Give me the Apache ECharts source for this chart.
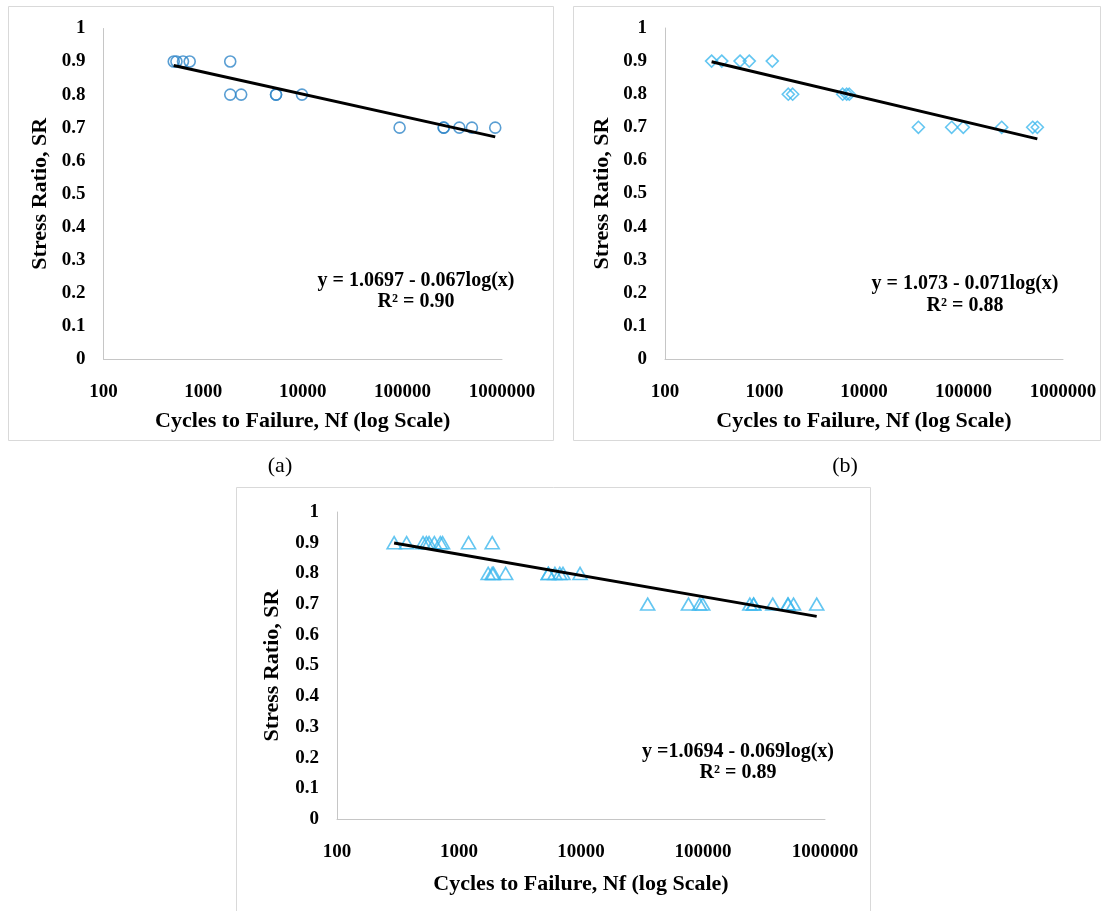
<!DOCTYPE html>
<html>
<head>
<meta charset="utf-8">
<script src="https://cdn.jsdelivr.net/npm/echarts@6/dist/echarts.min.js"></script>
<style>
html,body{margin:0;padding:0;background:#fff;}
#chart{width:1106px;height:911px;}
</style>
</head>
<body>
<div id="chart"></div>
<script>
// ---- data ----
const aCycles = [507, 540, 628, 733, 1871, 1871, 2410, 5395, 5395, 9820, 93800, 260000, 260000, 373000, 499000, 855000];
const aSR     = [0.9, 0.9, 0.9, 0.9, 0.9, 0.8, 0.8, 0.8, 0.8, 0.8, 0.7, 0.7, 0.7, 0.7, 0.7, 0.7];
const bCycles = [294, 372, 568, 703, 1197, 1734, 1919, 6110, 6700, 7115, 35200, 76000, 99500, 242000, 496000, 552000];
const bSR     = [0.9, 0.9, 0.9, 0.9, 0.9, 0.8, 0.8, 0.8, 0.8, 0.8, 0.7, 0.7, 0.7, 0.7, 0.7, 0.7];
const cCycles = [294, 372, 507, 540, 568, 628, 703, 733, 1197, 1871,
                 1734, 1871, 1919, 2410, 5395, 5395, 6110, 6700, 7115, 9820,
                 35200, 76000, 93800, 99500, 242000, 260000, 260000, 373000, 496000, 499000, 552000, 855000];
const cSR     = [0.9, 0.9, 0.9, 0.9, 0.9, 0.9, 0.9, 0.9, 0.9, 0.9,
                 0.8, 0.8, 0.8, 0.8, 0.8, 0.8, 0.8, 0.8, 0.8, 0.8,
                 0.7, 0.7, 0.7, 0.7, 0.7, 0.7, 0.7, 0.7, 0.7, 0.7, 0.7, 0.7];
// trendline end points (logarithmic fits as labelled)
const aTrend = [[507, 0.888], [855000, 0.672]];
const bTrend = [[294, 0.898], [552000, 0.665]];
const cTrend = [[294, 0.899], [855000, 0.660]];
const xTicks = ['100', '1000', '10000', '100000', '1000000'];
const yTicks = ['0', '0.1', '0.2', '0.3', '0.4', '0.5', '0.6', '0.7', '0.8', '0.9', '1'];
const eqA = ['y = 1.0697 - 0.067log(x)', 'R² = 0.90'];
const eqB = ['y = 1.073 - 0.071log(x)', 'R² = 0.88'];
const eqC = ['y =1.0694 - 0.069log(x)', 'R² = 0.89'];
const xTitle = 'Cycles to Failure, Nf (log Scale)';
const yTitle = 'Stress Ratio, SR';

// ---- build ----
const FONT = "'Liberation Serif', 'Times New Roman', serif";
const AXIS_COLOR = '#c6c6c6';
const pair = (xs, ys) => xs.map((x, i) => [x, ys[i]]);

function xAxisCfg(idx, gap, fs) {
  return {
    gridIndex: idx, type: 'log', logBase: 10, min: 100, max: 1000000,
    axisLine: {show: true, onZero: false, lineStyle: {color: AXIS_COLOR, width: 1}},
    axisTick: {show: false}, splitLine: {show: false},
    axisLabel: {
      margin: 24, color: '#000', fontFamily: FONT, fontWeight: 'bold', fontSize: 19,
      formatter: v => { const k = Math.round(Math.log10(v)) - 2; return xTicks[k] !== undefined ? xTicks[k] : ''; }
    },
    name: xTitle, nameLocation: 'middle', nameGap: gap,
    nameTextStyle: {color: '#000', fontFamily: FONT, fontWeight: 'bold', fontSize: fs}
  };
}
function yAxisCfg(idx, gap, fs) {
  return {
    gridIndex: idx, type: 'value', min: 0, max: 1, interval: 0.1,
    axisLine: {show: true, lineStyle: {color: AXIS_COLOR, width: 1}},
    axisTick: {show: false}, splitLine: {show: false},
    axisLabel: {
      margin: 18, color: '#000', fontFamily: FONT, fontWeight: 'bold', fontSize: 19,
      formatter: v => { const k = Math.round(v * 10); return yTicks[k] !== undefined ? yTicks[k] : ''; }
    },
    name: yTitle, nameLocation: 'middle', nameGap: gap, nameRotate: 90,
    nameTextStyle: {color: '#000', fontFamily: FONT, fontWeight: 'bold', fontSize: fs}
  };
}
function scatter(idx, data, symbol, size, color) {
  return {
    type: 'scatter', xAxisIndex: idx, yAxisIndex: idx, data: data,
    symbol: symbol, symbolSize: size, z: 2,
    itemStyle: {color: 'rgba(255,255,255,0)', borderColor: color, borderWidth: 1.6}
  };
}
function trend(idx, data) {
  return {
    type: 'line', xAxisIndex: idx, yAxisIndex: idx, data: data,
    symbol: 'none', z: 5, silent: true,
    lineStyle: {color: '#000', width: 3}
  };
}
function eqText(lines, cx, y1, y2) {
  return [
    {type: 'text', x: cx, y: y1, style: {text: lines[0], fill: '#000', font: 'bold 20px ' + FONT, align: 'center', verticalAlign: 'middle'}, z: 10},
    {type: 'text', x: cx, y: y2, style: {text: lines[1], fill: '#000', font: 'bold 20px ' + FONT, align: 'center', verticalAlign: 'middle'}, z: 10}
  ];
}
function box(x, y, w, h) {
  return {type: 'rect', shape: {x: x + 0.5, y: y + 0.5, width: w, height: h},
          style: {fill: '#fff', stroke: '#d9d9d9', lineWidth: 1}, z: -10};
}

const chart = echarts.init(document.getElementById('chart'), null, {renderer: 'canvas'});
chart.setOption({
  backgroundColor: '#fff',
  animation: false,
  grid: [
    {left: 103.5, top: 28.5, width: 398.5, height: 330.5},
    {left: 665, top: 28, width: 398, height: 331},
    {left: 337, top: 512, width: 488, height: 307}
  ],
  xAxis: [xAxisCfg(0, 51, 22), xAxisCfg(1, 51, 22), xAxisCfg(2, 54, 22)],
  yAxis: [yAxisCfg(0, 52, 22), yAxisCfg(1, 52, 22), yAxisCfg(2, 54, 22)],
  series: [
    scatter(0, pair(aCycles, aSR), 'circle', 11, '#2f86c8'),
    trend(0, aTrend),
    scatter(1, pair(bCycles, bSR), 'diamond', 12, '#3db8ee'),
    trend(1, bTrend),
    scatter(2, pair(cCycles, cSR), 'triangle', [14, 12], '#3db8ee'),
    trend(2, cTrend)
  ],
  graphic: [
    box(8, 6, 545, 434),
    box(573, 6, 527, 434),
    box(236, 487, 634, 430),
    ...eqText(eqA, 416, 281, 302),
    ...eqText(eqB, 965, 284, 306),
    ...eqText(eqC, 738, 752, 773),
    {type: 'text', x: 280, y: 466, style: {text: '(a)', fill: '#000', font: '22px ' + FONT, align: 'center', verticalAlign: 'middle'}},
    {type: 'text', x: 845, y: 466, style: {text: '(b)', fill: '#000', font: '22px ' + FONT, align: 'center', verticalAlign: 'middle'}}
  ]
});
</script>
</body>
</html>
